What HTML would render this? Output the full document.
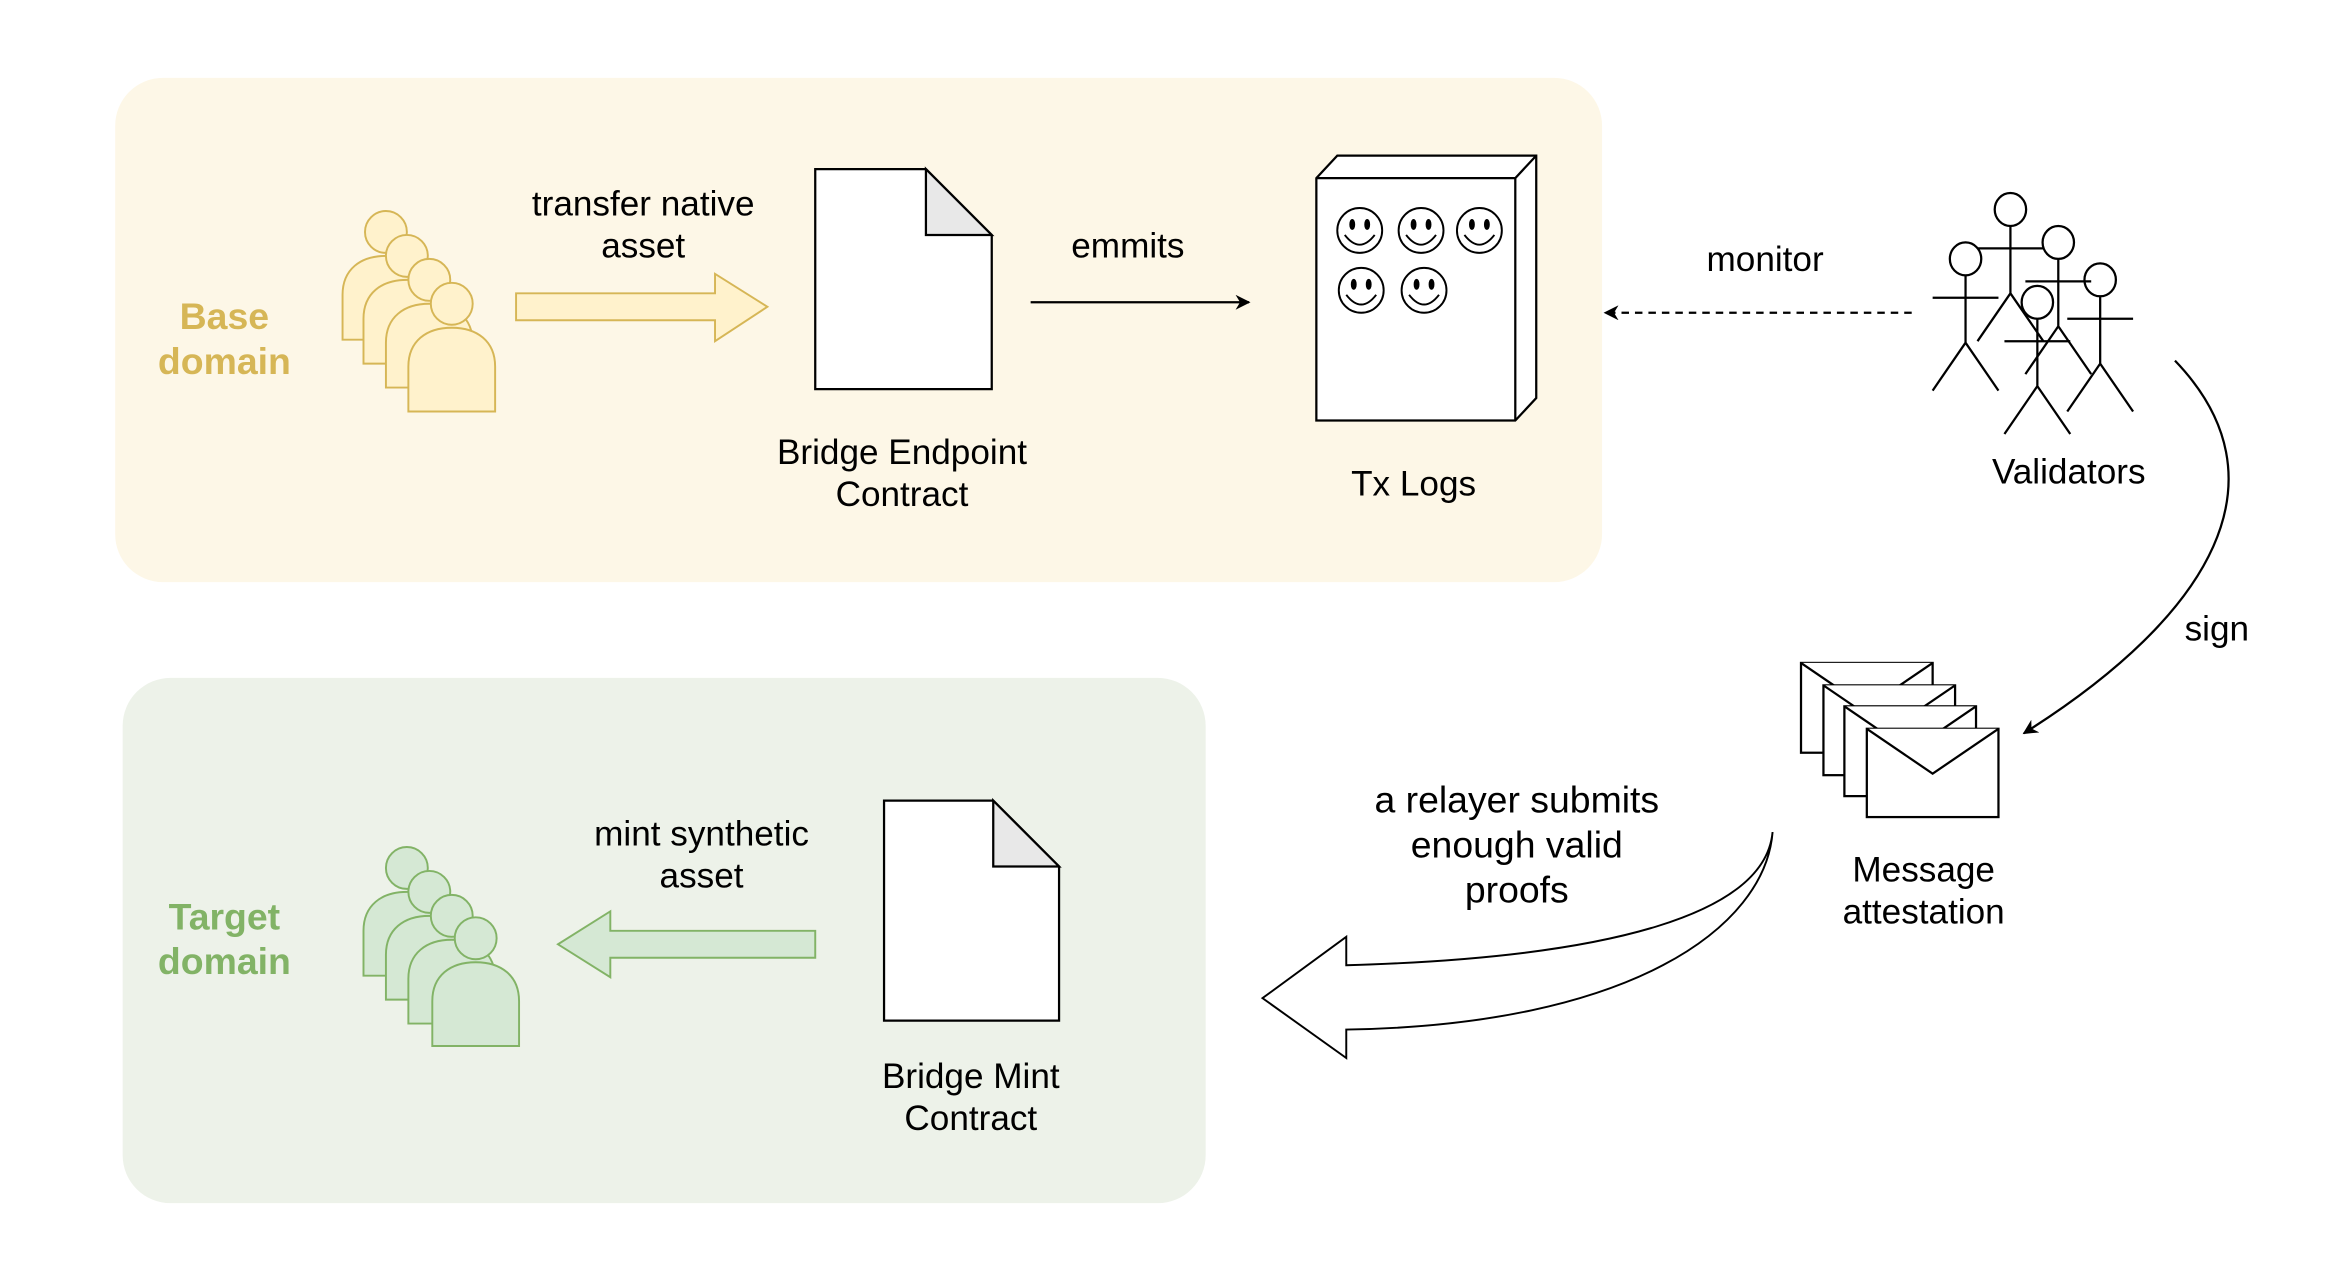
<!DOCTYPE html>
<html><head><meta charset="utf-8"><style>html,body{margin:0;padding:0;background:#fff}svg{display:block}text{font-family:"Liberation Sans",Arial,sans-serif;font-size:23.5px;text-anchor:middle;fill:#000}</style></head>
<body>
<svg width="2344" height="1272" viewBox="0 0 1567 850" preserveAspectRatio="none" xmlns="http://www.w3.org/2000/svg">
<defs>
<marker id="ah" markerWidth="10" markerHeight="10" refX="9" refY="5" orient="auto" markerUnits="userSpaceOnUse"><path d="M0,0 L10,5 L0,10 L3,5 Z" fill="#000"/></marker>
<g id="person"><circle cx="0" cy="0" r="14"/><path d="M-29,72 V42 C-29,25 -17,16 0,16 C17,16 29,25 29,42 V72 Z"/></g>
</defs>
<rect x="77" y="52" width="994" height="337" rx="32" fill="#fdf7e7"/>
<rect x="82" y="453" width="724" height="351" rx="32" fill="#edf2e9"/>

<text x="150" y="220" style="fill:#d6b656;font-weight:bold;font-size:25px">Base</text>
<text x="150" y="250" style="fill:#d6b656;font-weight:bold;font-size:25px">domain</text>
<g fill="#fff2cc" stroke="#d6b656" stroke-width="1.3">
<use href="#person" x="258" y="155"/><use href="#person" x="272" y="171"/><use href="#person" x="287" y="187"/><use href="#person" x="302" y="203"/>
</g>
<path d="M345,196 H478 V183 L513,205 L478,228 V214 H345 Z" fill="#fff2cc" stroke="#d6b656" stroke-width="1.3"/>
<text x="430" y="144">transfer native</text><text x="430" y="172">asset</text>
<path d="M545,113 H619 L663,157 V260 H545 Z" fill="#fff" stroke="#000" stroke-width="1.5"/>
<path d="M619,113 V157 H663 Z" fill="#e8e8e8" stroke="#000" stroke-width="1.5"/>
<text x="603" y="310">Bridge Endpoint</text><text x="603" y="338">Contract</text>
<line x1="689" y1="202" x2="835" y2="202" stroke="#000" stroke-width="1.5" marker-end="url(#ah)"/>
<text x="754" y="172">emmits</text>
<path d="M880,119 L894,104 H1027 V266 L1013,281 H880 Z" fill="#fff" stroke="#000" stroke-width="1.5"/>
<path d="M880,119 H1013 L1027,104 M1013,119 V281" fill="none" stroke="#000" stroke-width="1.5"/>
<g fill="none" stroke="#000" stroke-width="1.3">
<g transform="translate(909,154)"><circle r="15"/><path d="M-10,3 Q0,16 10,3"/><ellipse cx="-5" cy="-4" rx="1.3" ry="3" fill="#000"/><ellipse cx="5" cy="-4" rx="1.3" ry="3" fill="#000"/></g>
<g transform="translate(950,154)"><circle r="15"/><path d="M-10,3 Q0,16 10,3"/><ellipse cx="-5" cy="-4" rx="1.3" ry="3" fill="#000"/><ellipse cx="5" cy="-4" rx="1.3" ry="3" fill="#000"/></g>
<g transform="translate(989,154)"><circle r="15"/><path d="M-10,3 Q0,16 10,3"/><ellipse cx="-5" cy="-4" rx="1.3" ry="3" fill="#000"/><ellipse cx="5" cy="-4" rx="1.3" ry="3" fill="#000"/></g>
<g transform="translate(910,194)"><circle r="15"/><path d="M-10,3 Q0,16 10,3"/><ellipse cx="-5" cy="-4" rx="1.3" ry="3" fill="#000"/><ellipse cx="5" cy="-4" rx="1.3" ry="3" fill="#000"/></g>
<g transform="translate(952,194)"><circle r="15"/><path d="M-10,3 Q0,16 10,3"/><ellipse cx="-5" cy="-4" rx="1.3" ry="3" fill="#000"/><ellipse cx="5" cy="-4" rx="1.3" ry="3" fill="#000"/></g>
</g>
<text x="945" y="331">Tx Logs</text>

<line x1="1278" y1="209" x2="1073" y2="209" stroke="#000" stroke-width="1.5" stroke-dasharray="5,4" marker-end="url(#ah)"/>
<text x="1180" y="181">monitor</text>
<g fill="none" stroke="#000" stroke-width="1.5">
<g transform="translate(1344,140)"><ellipse rx="10.5" ry="11"/><path d="M0,11 V56 M-22,26 H22 M0,56 L-22,88 M0,56 L22,88"/></g>
<g transform="translate(1376,162)"><ellipse rx="10.5" ry="11"/><path d="M0,11 V56 M-22,26 H22 M0,56 L-22,88 M0,56 L22,88"/></g>
<g transform="translate(1314,173)"><ellipse rx="10.5" ry="11"/><path d="M0,11 V56 M-22,26 H22 M0,56 L-22,88 M0,56 L22,88"/></g>
<g transform="translate(1404,187)"><ellipse rx="10.5" ry="11"/><path d="M0,11 V56 M-22,26 H22 M0,56 L-22,88 M0,56 L22,88"/></g>
<g transform="translate(1362,202)"><ellipse rx="10.5" ry="11" fill="#fff"/><path d="M0,11 V56 M-22,26 H22 M0,56 L-22,88 M0,56 L22,88"/></g>
</g>
<text x="1383" y="323">Validators</text>
<path d="M1454,241 C1530,320 1480,410 1353,490" fill="none" stroke="#000" stroke-width="1.5" marker-end="url(#ah)"/>
<text x="1482" y="428">sign</text>
<g fill="#fff" stroke="#000" stroke-width="1.5">
<g transform="translate(1204,443)"><rect width="88" height="60"/><path d="M0,0 L44,30 L88,0"/></g>
<g transform="translate(1219,458)"><rect width="88" height="60"/><path d="M0,0 L44,30 L88,0"/></g>
<g transform="translate(1233,472)"><rect width="88" height="60"/><path d="M0,0 L44,30 L88,0"/></g>
<g transform="translate(1248,487)"><rect width="88" height="59"/><path d="M0,0 L44,30 L88,0"/></g>
</g>
<text x="1286" y="589">Message</text><text x="1286" y="617">attestation</text>
<path d="M1185,556 C1180,610 1080,640 900,645 V626 L844,667 L900,707 V688 C1090,685 1180,620 1185,556 Z" fill="#fff" stroke="#000" stroke-width="1.3"/>
<g style="font-size:25px"><text x="1014" y="543" style="font-size:25px">a relayer submits</text><text x="1014" y="573" style="font-size:25px">enough valid</text><text x="1014" y="603" style="font-size:25px">proofs</text></g>

<text x="150" y="621" style="fill:#82b366;font-weight:bold;font-size:25px">Target</text>
<text x="150" y="651" style="fill:#82b366;font-weight:bold;font-size:25px">domain</text>
<g fill="#d5e8d4" stroke="#82b366" stroke-width="1.3">
<use href="#person" x="272" y="580"/><use href="#person" x="287" y="596"/><use href="#person" x="302" y="612"/><use href="#person" x="318" y="627"/>
</g>
<path d="M545,622 H408 V609 L373,631 L408,653 V640 H545 Z" fill="#d5e8d4" stroke="#82b366" stroke-width="1.3"/>
<text x="469" y="565">mint synthetic</text><text x="469" y="593">asset</text>
<path d="M591,535 H664 L708,579 V682 H591 Z" fill="#fff" stroke="#000" stroke-width="1.5"/>
<path d="M664,535 V579 H708 Z" fill="#e8e8e8" stroke="#000" stroke-width="1.5"/>
<text x="649" y="727">Bridge Mint</text><text x="649" y="755">Contract</text>
</svg>
</body></html>
